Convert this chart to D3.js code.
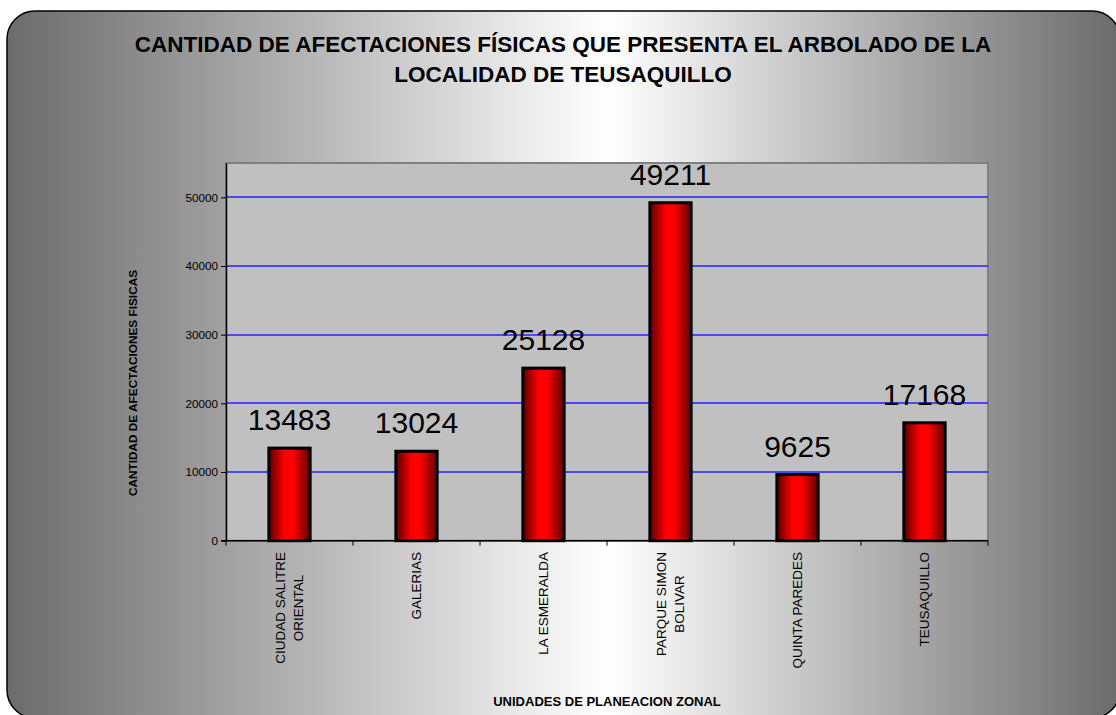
<!DOCTYPE html>
<html>
<head>
<meta charset="utf-8">
<script src="https://cdn.jsdelivr.net/npm/d3@7"></script>
<style>
  body { margin: 0; background: #fff; }
  text { font-family: Arial, "Liberation Sans", sans-serif; }
</style>
</head>
<body>
<div id="chart"></div>
<script>
// data
let categories = ["CIUDAD SALITRE ORIENTAL", "GALERIAS", "LA ESMERALDA", "PARQUE SIMON BOLIVAR", "QUINTA PAREDES", "TEUSAQUILLO"];
let categoryLines = [["CIUDAD SALITRE", "ORIENTAL"], ["GALERIAS"], ["LA ESMERALDA"], ["PARQUE SIMON", "BOLIVAR"], ["QUINTA PAREDES"], ["TEUSAQUILLO"]];
let values = [13483, 13024, 25128, 49211, 9625, 17168];
let yTicks = [0, 10000, 20000, 30000, 40000, 50000];
let titleLines = ["CANTIDAD DE AFECTACIONES FÍSICAS QUE PRESENTA EL ARBOLADO DE LA", "LOCALIDAD DE TEUSAQUILLO"];

let width = 1116, height = 715;

let svg = d3.select("#chart")
    .append("svg")
    .attr("width", width)
    .attr("height", height);

let defs = svg.append("defs");

// background: gray -> white -> gray
let bg = defs.append("linearGradient").attr("id", "bgGrad")
    .attr("x1", "0%").attr("x2", "100%").attr("y1", "0%").attr("y2", "0%");
bg.append("stop").attr("offset", "0%").attr("stop-color", "#6b6b6b");
bg.append("stop").attr("offset", "54%").attr("stop-color", "#ffffff");
bg.append("stop").attr("offset", "100%").attr("stop-color", "#6b6b6b");

// bars: dark red at edges, bright in the middle
let barGrad = defs.append("linearGradient").attr("id", "barGrad")
    .attr("x1", "0%").attr("x2", "100%").attr("y1", "0%").attr("y2", "0%");
barGrad.append("stop").attr("offset", "0%").attr("stop-color", "#580000");
barGrad.append("stop").attr("offset", "38%").attr("stop-color", "#ff0000");
barGrad.append("stop").attr("offset", "58%").attr("stop-color", "#ff0000");
barGrad.append("stop").attr("offset", "100%").attr("stop-color", "#600000");

svg.append("rect")
    .attr("x", 7).attr("y", 11)
    .attr("width", 1113).attr("height", 707)
    .attr("rx", 28).attr("ry", 28)
    .style("fill", "url(#bgGrad)")
    .style("stroke", "#000")
    .style("stroke-width", 1.5);

// title
svg.append("text")
    .attr("x", 563)
    .attr("y", 52)
    .attr("text-anchor", "middle")
    .style("font-size", "22.5px")
    .style("font-weight", "bold")
    .selectAll("tspan")
    .data(titleLines)
    .enter().append("tspan")
    .attr("x", 563)
    .attr("dy", (d, i) => i === 0 ? 0 : 30)
    .text(d => d);

let plot = { left: 226, right: 988, top: 163, bottom: 540.7 };

let x = d3.scaleBand()
    .domain(categories)
    .range([plot.left, plot.right])
    .padding(0);

let y = d3.scaleLinear()
    .domain([0, 55000])
    .range([plot.bottom, plot.top]);

// plot area
svg.append("rect")
    .attr("x", plot.left).attr("y", plot.top)
    .attr("width", plot.right - plot.left)
    .attr("height", plot.bottom - plot.top)
    .style("fill", "#c0c0c0")
    .style("stroke", "#808080")
    .style("stroke-width", 2);

// gridlines
svg.append("g")
    .selectAll("line")
    .data(yTicks.filter(d => d > 0))
    .enter().append("line")
    .attr("x1", plot.left).attr("x2", plot.right)
    .attr("y1", d => Math.round(y(d)))
    .attr("y2", d => Math.round(y(d)))
    .style("stroke", "#2222ff")
    .style("stroke-width", 1.6);

// y axis
let yAxis = svg.append("g")
    .attr("transform", "translate(" + plot.left + ",0)")
    .call(d3.axisLeft(y).tickValues(yTicks).tickSize(5).tickSizeOuter(0).tickPadding(3).tickFormat(d3.format("d")));
yAxis.select(".domain").style("stroke", "#000").style("stroke-width", 1.5);
yAxis.selectAll(".tick line").style("stroke", "#000");
yAxis.selectAll("text").style("font-size", "11.7px").style("fill", "#000")
    .style("font-family", "Arial, 'Liberation Sans', sans-serif");

// x axis line and ticks at band boundaries
let xg = svg.append("g");
xg.append("line")
    .attr("x1", plot.left - 5).attr("x2", plot.right)
    .attr("y1", plot.bottom).attr("y2", plot.bottom)
    .style("stroke", "#000").style("stroke-width", 1.5);
let bounds = categories.map(c => x(c)).concat([x(categories[categories.length - 1]) + x.bandwidth()]);
xg.selectAll(".xtick")
    .data(bounds)
    .enter().append("line")
    .attr("class", "xtick")
    .attr("x1", d => d).attr("x2", d => d)
    .attr("y1", plot.bottom).attr("y2", plot.bottom + 5)
    .style("stroke", "#000");

// bars
let barW = x.bandwidth() * 0.325;
svg.append("g")
    .selectAll("rect")
    .data(values)
    .enter().append("rect")
    .attr("x", (d, i) => x(categories[i]) + x.bandwidth() / 2 - barW / 2)
    .attr("y", d => y(d))
    .attr("width", barW)
    .attr("height", d => y(0) - y(d))
    .style("fill", "url(#barGrad)")
    .style("stroke", "#000")
    .style("stroke-width", 3);

// value labels
svg.append("g")
    .selectAll("text")
    .data(values)
    .enter().append("text")
    .attr("x", (d, i) => x(categories[i]) + x.bandwidth() / 2)
    .attr("y", d => y(d) - 18)
    .attr("text-anchor", "middle")
    .style("font-size", "30px")
    .style("fill", "#000")
    .text(d => d);

// category labels, rotated, multi-line centered, top at axis
let labelTop = 552;
let lineGap = 18.5;
categoryLines.forEach((lines, i) => {
    let cx = x(categories[i]) + x.bandwidth() / 2;
    let g = svg.append("g");
    let texts = lines.map((ln, j) => g.append("text")
        .style("font-size", "13.5px")
        .style("fill", "#000")
        .attr("text-anchor", "middle")
        .text(ln));
    let maxW = d3.max(texts, t => t.node().getComputedTextLength());
    let n = lines.length;
    texts.forEach((t, j) => {
        let lx = cx + (j - (n - 1) / 2) * lineGap + 4.5;
        t.attr("transform", "translate(" + lx + "," + (labelTop + maxW / 2) + ") rotate(-90)");
    });
});

// axis titles
svg.append("text")
    .attr("transform", "translate(137,383) rotate(-90)")
    .attr("text-anchor", "middle")
    .style("font-size", "11.8px")
    .style("font-weight", "bold")
    .text("CANTIDAD DE AFECTACIONES FISICAS");

svg.append("text")
    .attr("x", 607)
    .attr("y", 706)
    .attr("text-anchor", "middle")
    .style("font-size", "13px")
    .style("font-weight", "bold")
    .text("UNIDADES DE PLANEACION ZONAL");
</script>
</body>
</html>
